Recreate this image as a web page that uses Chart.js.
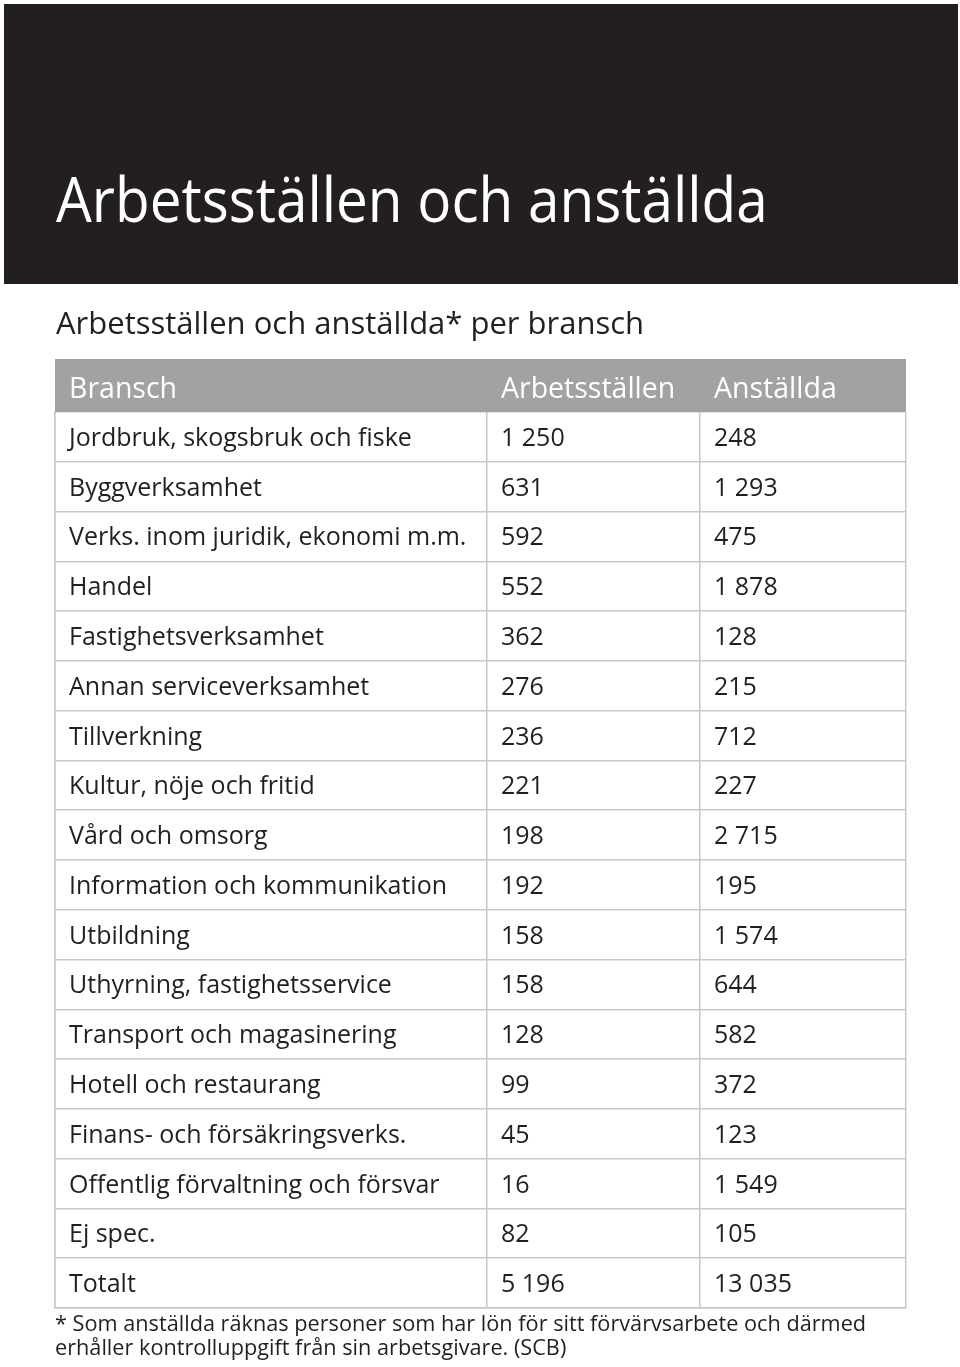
<!DOCTYPE html>
<html lang="sv">
<head>
<meta charset="utf-8">
<script src="https://cdn.jsdelivr.net/npm/chart.js@4"></script>
<style>
  html, body { margin: 0; padding: 0; background: #fff; }
  body { width: 960px; height: 1367px; position: relative; overflow: hidden;
         font-family: "Open Sans", sans-serif; color: #231f20; }
  #wrap { position: absolute; left: 0; top: 0; width: 960px; height: 1367px; }
  #band { position: absolute; left: 4px; top: 4px; width: 954px; height: 280px; background: #231f20; z-index: 2; }
  #title { position: absolute; left: 56px; top: 167px; font-size: 62px; line-height: 62px; color: #fff; white-space: nowrap; z-index: 3;
           transform: scaleX(0.914); transform-origin: left top; }
  #sub { position: absolute; left: 56px; top: 307px; font-size: 31px; line-height: 31px; white-space: nowrap; z-index: 3; }
  #note { position: absolute; left: 55px; top: 1311px; font-size: 21.7px; line-height: 24px; white-space: nowrap; z-index: 3; }
</style>
</head>
<body>
<div id="band"></div>
<div id="title">Arbetsställen och anställda</div>
<div id="sub">Arbetsställen och anställda* per bransch</div>
<div id="wrap"><canvas id="chart_table"></canvas></div>
<div id="note">* Som anställda räknas personer som har lön för sitt förvärvsarbete och därmed<br>erhåller kontrolluppgift från sin arbetsgivare. (SCB)</div>

<script>
let columns = ["Bransch", "Arbetsställen", "Anställda"];
let branches = ["Jordbruk, skogsbruk och fiske", "Byggverksamhet", "Verks. inom juridik, ekonomi m.m.",
    "Handel", "Fastighetsverksamhet", "Annan serviceverksamhet", "Tillverkning", "Kultur, nöje och fritid",
    "Vård och omsorg", "Information och kommunikation", "Utbildning", "Uthyrning, fastighetsservice",
    "Transport och magasinering", "Hotell och restaurang", "Finans- och försäkringsverks.",
    "Offentlig förvaltning och försvar", "Ej spec.", "Totalt"];
let workplaces = [1250, 631, 592, 552, 362, 276, 236, 221, 198, 192, 158, 158, 128, 99, 45, 16, 82, 5196];
let employees = [248, 1293, 475, 1878, 128, 215, 712, 227, 2715, 195, 1574, 644, 582, 372, 123, 1549, 105, 13035];

// column edges in px from the table's left border
let colEdges = [0, 432, 645, 851];
let lineColor = "#c8c8c8";
let fontFam = "'Open Sans', sans-serif";

function fmt(n) {
    return String(n).replace(/\B(?=(\d{3})+(?!\d))/g, " ");
}

// draws header row and the cell texts, rows taken from the y scale
let tablePlugin = {
    id: "tableText",
    afterDraw(chart) {
        let ctx = chart.ctx;
        let x = chart.scales.x, y = chart.scales.y;
        let left = chart.chartArea.left, right = chart.chartArea.right, top = chart.chartArea.top;
        let colX = colEdges.slice(0, 3).map(v => x.getPixelForValue(v) + 14);
        ctx.save();
        // header
        ctx.fillStyle = "#a2a2a4";
        ctx.fillRect(left, top - 53, right - left, 53);
        ctx.fillStyle = "#ffffff";
        ctx.font = "28.5px " + fontFam;
        ctx.textBaseline = "alphabetic";
        ctx.textAlign = "left";
        columns.forEach((c, i) => ctx.fillText(c, colX[i], top - 14));
        // body
        ctx.fillStyle = "#231f20";
        ctx.font = "25px " + fontFam;
        let sets = chart.data.datasets;
        branches.forEach((b, i) => {
            let cy = y.getPixelForValue(i) + 9;
            ctx.fillText(b, colX[0], cy);
            ctx.fillText(fmt(sets[0].data[i]), colX[1], cy);
            ctx.fillText(fmt(sets[1].data[i]), colX[2], cy);
        });
        ctx.restore();
    }
};

var TableChart = new Chart("chart_table", {
    type: "bar",
    data: {
        labels: branches,
        datasets: [{
            label: columns[1],
            data: workplaces,
            backgroundColor: "rgba(0,0,0,0)"
        }, {
            label: columns[2],
            data: employees,
            backgroundColor: "rgba(0,0,0,0)"
        }]
    },
    options: {
        indexAxis: "y",
        responsive: true,
        maintainAspectRatio: false,
        animation: false,
        events: [],
        layout: {
            padding: { left: 55, right: 54, top: 412, bottom: 59 }
        },
        plugins: {
            legend: { display: false },
            tooltip: { enabled: false }
        },
        scales: {
            x: {
                type: "linear",
                min: 0,
                max: 851,
                afterBuildTicks: (scale) => { scale.ticks = colEdges.map(v => ({ value: v })); },
                ticks: { display: false },
                grid: { color: lineColor, lineWidth: 1.5, drawTicks: false },
                border: { display: true, color: lineColor, width: 1.5 }
            },
            y: {
                type: "category",
                ticks: { display: false },
                grid: { offset: true, color: lineColor, lineWidth: 1.5, drawTicks: false },
                border: { display: true, color: lineColor, width: 1.5 }
            }
        }
    },
    plugins: [tablePlugin]
});
</script>
</body>
</html>
